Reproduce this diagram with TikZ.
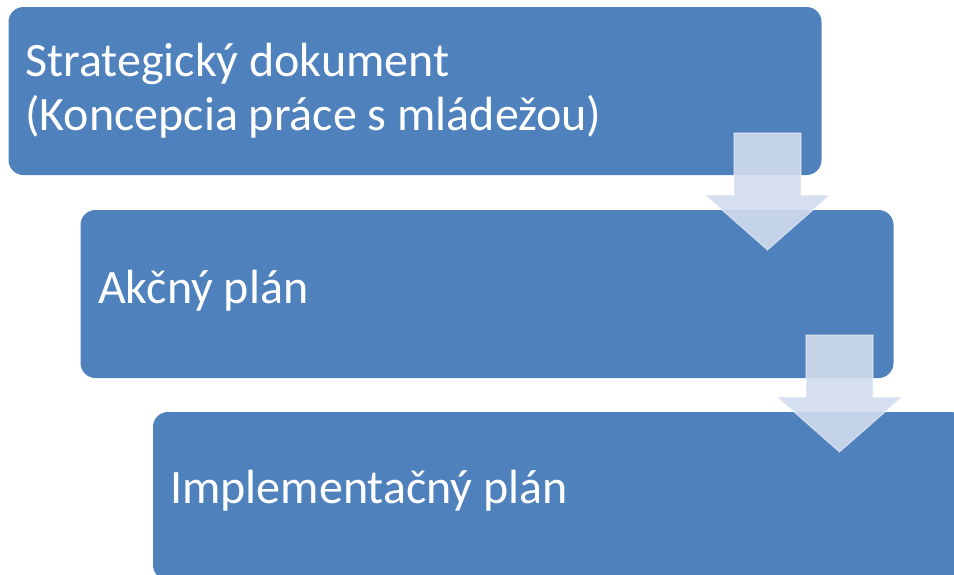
\documentclass[tikz,border=0pt]{standalone}
\usepackage{fontspec}
\setmainfont{Carlito}
\begin{document}
\begin{tikzpicture}[x=1pt,y=1pt,
  stepbox/.style={shape=rectangle,rounded corners=15pt,fill=planblue,draw=none,minimum width=813pt,minimum height=168pt},
  steptext/.style={anchor=base west,inner sep=0pt,text=white,align=left,font=\fontsize{48}{54}\selectfont},
  downarrow/.style={fill=arrowfill,fill opacity=0.9,draw=white,draw opacity=0.45,line width=1.2pt,line join=miter}]
\definecolor{planblue}{RGB}{79,129,189}
\definecolor{arrowfill}{RGB}{210,220,237}
\useasboundingbox (0,0) rectangle (954,-574);

\node[stepbox] (strat) at (415,-91) {};
\node[stepbox] (akcny) at (487,-294) {};
\node[stepbox] (impl) at (559.5,-496) {};

\node[steptext] (strattxt) at (25,-130) {Strategický dokument\\(Koncepcia práce s mládežou)};
\node[steptext] (akcnytxt) at (98,-303) {Akčný plán};
\node[steptext] (impltxt) at (170,-503) {Implementačný plán};

\filldraw[downarrow] (734,-133) -- (801,-133) -- (801,-195) -- (830,-195) -- (767.5,-250) -- (705,-195) -- (734,-195) -- cycle;
\filldraw[downarrow,shift={(72,-202)}] (734,-133) -- (801,-133) -- (801,-195) -- (830,-195) -- (767.5,-250) -- (705,-195) -- (734,-195) -- cycle;
\end{tikzpicture}
\end{document}
